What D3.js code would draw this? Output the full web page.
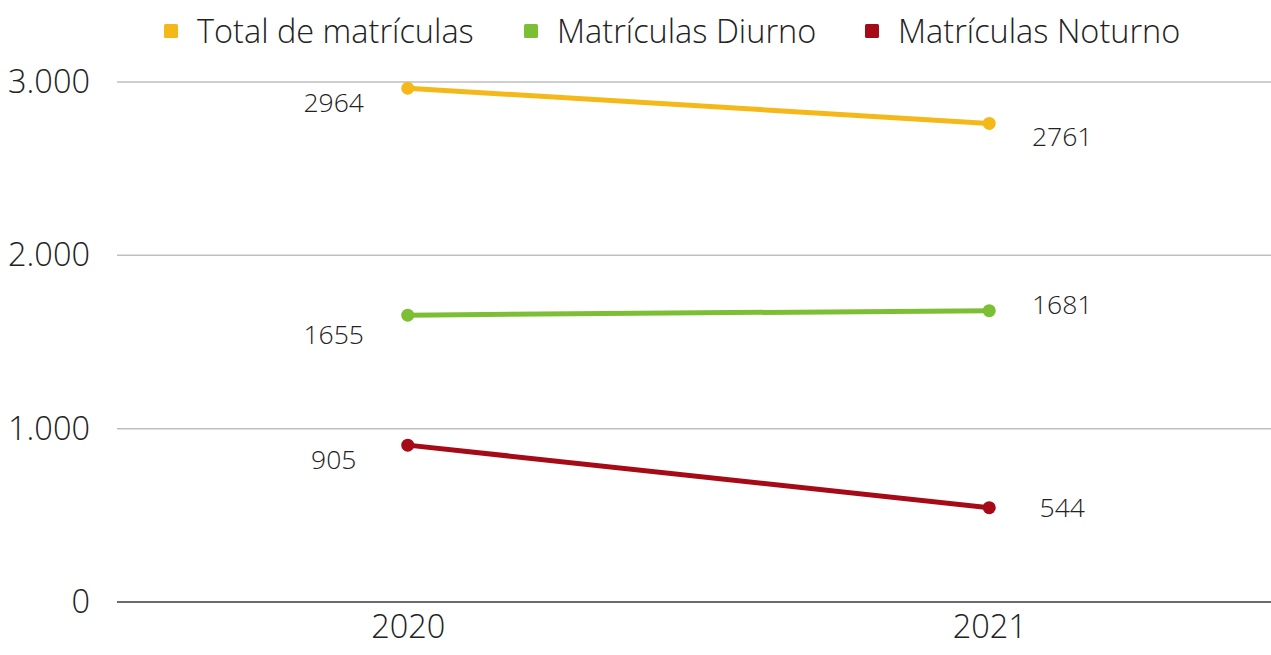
<!DOCTYPE html>
<html>
<head>
<meta charset="utf-8">
<script src="https://cdn.jsdelivr.net/npm/d3@7"></script>
<style>
  body { margin: 0; background: #fff; }
  text { font-family: "Open Sans", sans-serif; font-weight: 300; fill: #222; }
</style>
</head>
<body>
<div id="chart"></div>
<script>
// DATA
const years = ["2020", "2021"];
const seriesNames = ["Total de matrículas", "Matrículas Diurno", "Matrículas Noturno"];
const totalValues = [2964, 2761];
const diurnoValues = [1655, 1681];
const noturnoValues = [905, 544];
const yTicks = [0, 1000, 2000, 3000];

// CONSTANTS
const WIDTH = 1271;
const HEIGHT = 655;
const COLORS = ["#f4b818", "#7dbf34", "#a50a16"];
// label offsets [dx, dy] per series, per year
const LABEL_OFFSETS = [
  [[-74, 14], [73, 13]],
  [[-74, 19], [73, -7]],
  [[-74, 14], [73, -1]]
];

const series = [totalValues, diurnoValues, noturnoValues].map((values, i) => ({
  name: seriesNames[i],
  color: COLORS[i],
  points: values.map((v, j) => ({ year: years[j], value: v }))
}));

const svg = d3.select("#chart")
  .append("svg")
  .attr("width", WIDTH)
  .attr("height", HEIGHT);

const x = d3.scalePoint()
  .domain(years)
  .range([117, 1280])
  .padding(0.5);

const y = d3.scaleLinear()
  .domain([0, 3000])
  .range([602, 82]);

// gridlines
svg.append("g")
  .selectAll("line")
  .data(yTicks.filter(d => d > 0))
  .enter()
  .append("line")
  .attr("x1", 117)
  .attr("x2", WIDTH)
  .attr("y1", d => y(d))
  .attr("y2", d => y(d))
  .attr("stroke", "#bfbfbf")
  .attr("stroke-width", 1.5);

// baseline
svg.append("line")
  .attr("x1", 117)
  .attr("x2", WIDTH)
  .attr("y1", y(0))
  .attr("y2", y(0))
  .attr("stroke", "#6b6b6b")
  .attr("stroke-width", 2);

// y axis labels
const yAxis = d3.axisLeft(y)
  .tickValues(yTicks)
  .tickSize(0)
  .tickPadding(0)
  .tickFormat(d => d3.format(",")(d).replace(/,/g, "."));

svg.append("g")
  .attr("transform", "translate(90,0)")
  .call(yAxis)
  .call(g => g.select(".domain").remove())
  .selectAll("text")
  .attr("font-size", 32.5)
  .attr("font-family", null)
  .attr("fill", "#222");

// x axis labels
const xAxis = d3.axisBottom(x).tickSize(0).tickPadding(0);
svg.append("g")
  .attr("transform", "translate(0,615)")
  .call(xAxis)
  .call(g => g.select(".domain").remove())
  .selectAll("text")
  .attr("font-size", 32.5)
  .attr("font-family", null)
  .attr("fill", "#222");

const line = d3.line()
  .x(d => x(d.year))
  .y(d => y(d.value));

const seriesG = svg.append("g")
  .selectAll("g")
  .data(series)
  .enter()
  .append("g");

seriesG.append("path")
  .attr("d", d => line(d.points))
  .attr("fill", "none")
  .attr("stroke", d => d.color)
  .attr("stroke-width", 5);

seriesG.selectAll("circle")
  .data(d => d.points.map(p => ({ ...p, color: d.color })))
  .enter()
  .append("circle")
  .attr("cx", d => x(d.year))
  .attr("cy", d => y(d.value))
  .attr("r", 6.5)
  .attr("fill", d => d.color);

seriesG.each(function (s, i) {
  d3.select(this)
    .selectAll("text")
    .data(s.points)
    .enter()
    .append("text")
    .attr("x", (d, j) => x(d.year) + LABEL_OFFSETS[i][j][0])
    .attr("y", (d, j) => y(d.value) + LABEL_OFFSETS[i][j][1])
    .attr("text-anchor", "middle")
    .attr("dominant-baseline", "central")
    .attr("font-size", 26.5)
    .text(d => d.value);
});

// legend
const legendX = [164, 524, 865];
const legend = svg.append("g")
  .selectAll("g")
  .data(series)
  .enter()
  .append("g")
  .attr("transform", (d, i) => `translate(${legendX[i]},31)`);

legend.append("rect")
  .attr("x", 0)
  .attr("y", -7)
  .attr("width", 14)
  .attr("height", 14)
  .attr("rx", 1.5)
  .attr("fill", d => d.color);

legend.append("text")
  .attr("x", 33)
  .attr("y", -1)
  .attr("dominant-baseline", "central")
  .attr("font-size", 32.5)
  .text(d => d.name);
</script>
</body>
</html>
